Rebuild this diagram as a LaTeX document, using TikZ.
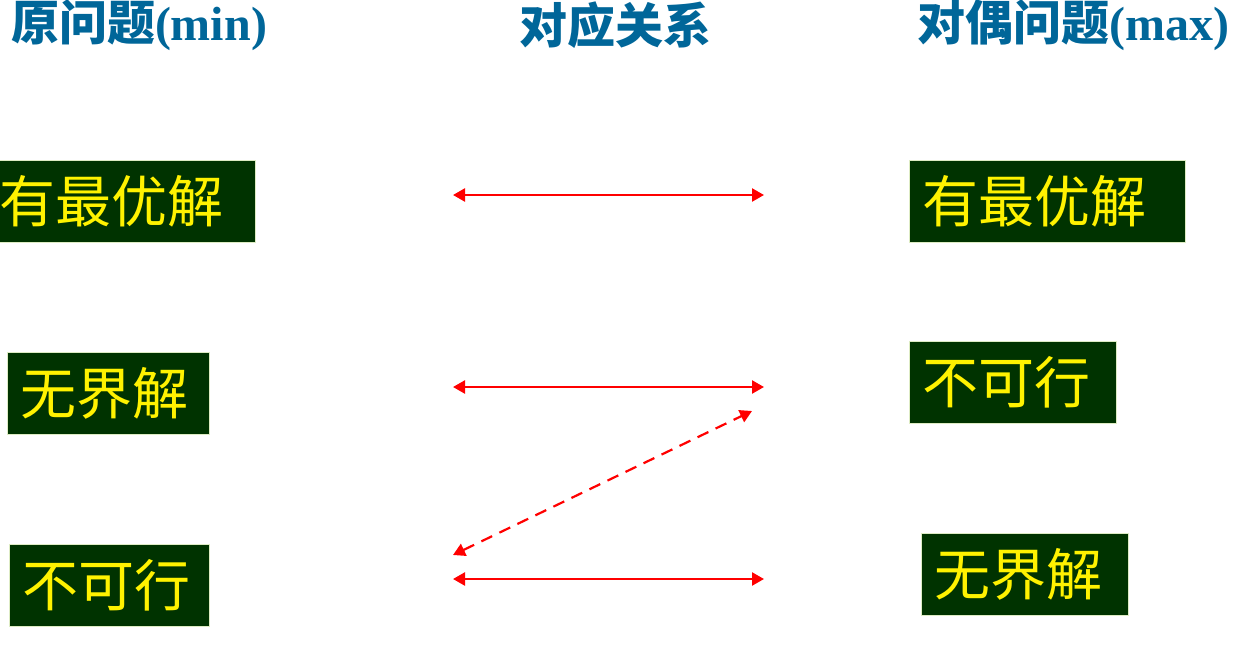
\documentclass[tikz,border=0pt]{standalone}
\usepackage{fontspec}
\setmainfont{Liberation Serif}
\newfontfamily\cjk{Noto Sans CJK SC}
\usetikzlibrary{arrows.meta}
\definecolor{headblue}{RGB}{0,102,153}
\definecolor{boxgreen}{RGB}{0,51,0}
\definecolor{boxedge}{RGB}{222,236,196}
\tikzset{
  head/.style={headblue,font=\fontsize{48}{56}\selectfont\bfseries},
  cell/.style={fill=boxgreen,draw=boxedge,line width=1pt,text=yellow,anchor=north west,
    align=left,inner xsep=13pt,inner ysep=0pt,minimum height=82pt,
    font=\fontsize{56}{60}\selectfont\cjk},
  link/.style={red,line width=2.4pt,{Triangle[length=12pt,width=13pt]}-{Triangle[length=12pt,width=13pt]}},
}
\begin{document}
\begin{tikzpicture}[x=1pt,y=-1pt]
  \useasboundingbox (0,0) rectangle (1240,657);
  % headings
  \node[head] (hprimal) at (139,25) {{\cjk 原问题}(min)};
  \node[head] (hrel) at (615,25) {\cjk 对应关系};
  \node[head] (hdual) at (1073,25) {{\cjk 对偶问题}(max)};
  % primal column
  \node[cell,text width=243pt] (popt) at (-14,160) {有最优解};
  \node[cell,text width=176pt] (punb) at (7,352) {无界解};
  \node[cell,text width=174pt] (pinf) at (9,544) {不可行};
  % dual column
  \node[cell,text width=250pt] (dopt) at (909,160) {有最优解};
  \node[cell,text width=181pt] (dinf) at (909,341) {不可行};
  \node[cell,text width=181pt] (dunb) at (921,533) {无界解};
  % arrow ends
  \coordinate (optl) at (453,195);
  \coordinate (optr) at (764,195);
  \coordinate (unbl) at (453,387);
  \coordinate (unbr) at (764,387);
  \coordinate (infl) at (453,579);
  \coordinate (infr) at (764,579);
  \coordinate (crossl) at (453,555);
  \coordinate (crossr) at (752,411);
  \draw[link] (optl) -- (optr);
  \draw[link] (unbl) -- (unbr);
  \draw[link] (infl) -- (infr);
  \draw[link,line width=2.2pt,dash pattern=on 12pt off 8pt] (crossl) -- (crossr);
\end{tikzpicture}
\end{document}
